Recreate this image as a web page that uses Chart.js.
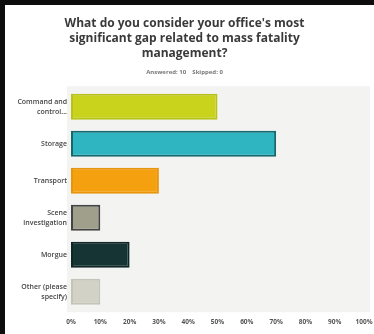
<!DOCTYPE html>
<html>
<head>
<meta charset="utf-8">
<script src="https://cdn.jsdelivr.net/npm/chart.js@4/dist/chart.umd.min.js"></script>
<style>
  html, body { margin: 0; padding: 0; background: #0d0d0d; overflow: hidden; }
  #wrap { position: absolute; left: 5px; top: 5px; width: 369px; height: 329px; background: #fff; }
</style>
</head>
<body>
<div id="wrap"><canvas id="myChart" width="369" height="329"></canvas></div>
<script>
// données du graphique
var categories = [['Command and', 'control...'], 'Storage', 'Transport', ['Scene', 'investigation'], 'Morgue', ['Other (please', 'specify)']];
var responses = [50, 70, 30, 10, 20, 10];
var tickLabels = ['0%', '10%', '20%', '30%', '40%', '50%', '60%', '70%', '80%', '90%', '100%'];
var titleLines = ['What do you consider your office\'s most', 'significant gap related to mass fatality', 'management?'];
var subtitleText = 'Answered: 10    Skipped: 0';

var fills = ['#c9d31c', '#2fb5c2', '#f5a00f', '#a09f8c', '#173434', '#d2d2c6'];
var borders = ['#b9c21a', '#15696c', '#e8950c', '#444444', '#102626', '#c4c4b8'];

// fond gris de la zone du graphique
var plotBg = {
    id: 'plotBg',
    beforeDraw: function (chart) {
        var a = chart.chartArea;
        var ctx = chart.ctx;
        ctx.save();
        ctx.fillStyle = '#f3f3f2';
        ctx.fillRect(a.left - 4, a.top - 2, a.right - a.left + 10, a.bottom - a.top + 4);
        ctx.restore();
    }
};

var ctx = document.getElementById('myChart').getContext('2d');
var myChart = new Chart(ctx, {
    type: 'bar',
    data: {
        labels: categories,
        datasets: [{
            label: 'Responses',
            data: responses,
            backgroundColor: fills,
            borderColor: borders,
            borderWidth: 2,
            borderSkipped: false,
            categoryPercentage: 0.7,
            barPercentage: 1
        }]
    },
    options: {
        indexAxis: 'y',
        responsive: false,
        animation: false,
        layout: { padding: { left: 0, right: 10, top: 0, bottom: 0 } },
        plugins: {
            legend: { display: false },
            tooltip: { enabled: false },
            title: {
                display: true,
                text: titleLines,
                color: '#3a3a3a',
                font: { family: 'Open Sans', size: 12, weight: 'bold', lineHeight: 1.25 },
                padding: { top: 11, bottom: 4 }
            },
            subtitle: {
                display: true,
                text: subtitleText,
                color: '#777',
                font: { family: 'Open Sans', size: 6, weight: 'bold' },
                padding: { top: 4, bottom: 12 }
            }
        },
        scales: {
            x: {
                min: 0,
                max: 100,
                grid: { display: false, drawTicks: false },
                border: { display: false },
                afterFit: function (scale) { scale.paddingLeft = 0; scale.paddingRight = 0; },
                ticks: {
                    stepSize: 10,
                    color: '#555',
                    font: { family: 'Open Sans', size: 6.5, weight: 'bold' },
                    padding: 8,
                    maxRotation: 0,
                    callback: function (value, index) { return tickLabels[index]; }
                }
            },
            y: {
                grid: { display: false, drawTicks: false },
                border: { display: false },
                afterFit: function (scale) { scale.width = 66; },
                ticks: {
                    color: '#444',
                    font: { family: 'Open Sans', size: 7, weight: '600', lineHeight: 1.4 },
                    padding: 4
                }
            }
        }
    },
    plugins: [plotBg]
});
</script>
</body>
</html>
